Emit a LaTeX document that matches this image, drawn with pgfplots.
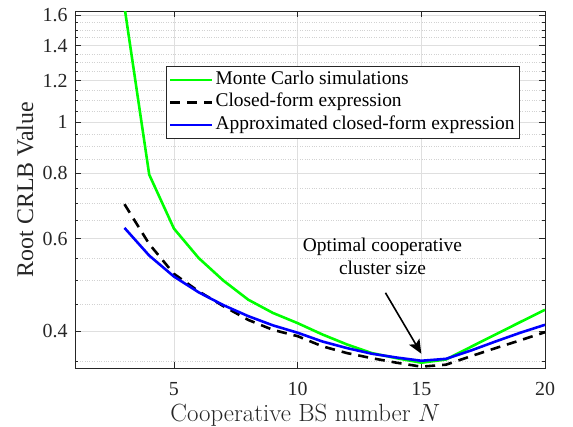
\documentclass[border=0pt]{standalone}
\usepackage{fontspec}
\setmainfont{Liberation Serif}
\usepackage{pgfplots}
\pgfplotsset{compat=1.18}
\usetikzlibrary{arrows.meta}
\definecolor{axgray}{rgb}{0.15,0.15,0.15}

\begin{document}
\begin{tikzpicture}[x=1bp,y=1bp]
% page is 573 x 426 bp, axis box sits at (75,11)-(545,368) from the top left
\useasboundingbox (-75,-58) rectangle (498,368);
\begin{axis}[
    at={(0,0)}, anchor=south west,
    scale only axis,
    width=470bp, height=357bp,
    xmin=1, xmax=20,
    ymode=log,
    ymin=0.34, ymax=1.63,
    xtick={5,10,15,20},
    ytick={0.4,0.6,0.8,1,1.2,1.4,1.6},
    yticklabels={0.4,0.6,0.8,1,1.2,1.4,1.6},
    minor ytick={0.35,0.45,0.5,0.55,0.65,0.7,0.75,0.85,0.9,0.95,1.05,1.1,1.15,1.25,1.3,1.35,1.45,1.5,1.55},
    /pgf/number format/assume math mode=true,
    tick label style={font=\fontsize{20}{20}\selectfont, text=axgray},
    xticklabel style={anchor=base, yshift=-27bp},
    yticklabel style={xshift=-4bp},
    tick align=inside,
    major tick length=6bp,
    minor tick length=3.5bp,
    every tick/.style={axgray, line width=0.6pt},
    axis line style={axgray, line width=0.8pt},
    grid=both,
    major grid style={gray!25, line width=0.6pt},
    minor grid style={gray!35, dotted, line width=0.5pt},
    xlabel={\fontfamily{lmr}\selectfont Cooperative BS number $N$},
    ylabel={Root CRLB Value},
    xlabel style={font=\fontsize{25}{25}\selectfont, text=axgray,
        at={(axis description cs:0.49,-0.1485)}, anchor=base},
    ylabel style={font=\fontsize{24}{24}\selectfont, text=axgray,
        at={(axis description cs:-0.1064,0.5)}, anchor=center},
    legend style={at={(0.194,0.846)}, anchor=north west,
        font=\fontsize{19.5}{19.5}\selectfont, draw=axgray, line width=0.6pt,
        inner xsep=2.5bp, inner ysep=2.5bp, row sep=0bp,
        nodes={text height=13bp, text depth=4.5bp, inner ysep=2.5bp, inner xsep=2bp}},
    legend cell align=left,
    legend image code/.code={\draw[#1, line width=2.6pt] (0bp,0bp) -- (42bp,0bp);},
]
\addplot[color={rgb,1:red,0;green,1;blue,0}, line width=2.6pt] coordinates {
(3,1.66) (4,0.795) (5,0.627) (6,0.551) (7,0.499) (8,0.459) (9,0.433) (10,0.414)
(11,0.394) (12,0.377) (13,0.363) (14,0.355) (15,0.348) (16,0.353) (17,0.373)
(18,0.394) (19,0.416) (20,0.439)};
\addlegendentry{Monte Carlo simulations}
\addplot[black, line width=2.6pt, dash pattern=on 10bp off 7bp] coordinates {
(3,0.698) (4,0.586) (5,0.514) (6,0.476) (7,0.446) (8,0.420) (9,0.402) (10,0.391)
(11,0.374) (12,0.363) (13,0.355) (14,0.348) (15,0.342) (16,0.345) (17,0.358)
(18,0.371) (19,0.384) (20,0.398)};
\addlegendentry{Closed-form expression}
\addplot[blue, line width=2.6pt] coordinates {
(3,0.629) (4,0.557) (5,0.508) (6,0.474) (7,0.448) (8,0.427) (9,0.410) (10,0.397)
(11,0.382) (12,0.371) (13,0.362) (14,0.356) (15,0.351) (16,0.354) (17,0.367)
(18,0.382) (19,0.397) (20,0.411)};
\addlegendentry{Approximated closed-form expression}
\node[font=\fontsize{19.5}{23}\selectfont, align=center, text=black]
    at (axis cs:13.43,0.554) {Optimal cooperative\\cluster size};
\draw[black, line width=1.6pt, -{Stealth[length=14bp,width=12bp,inset=3bp]}]
    (axis cs:13.55,0.473) -- (axis cs:15,0.362);
\end{axis}
\end{tikzpicture}
\end{document}
